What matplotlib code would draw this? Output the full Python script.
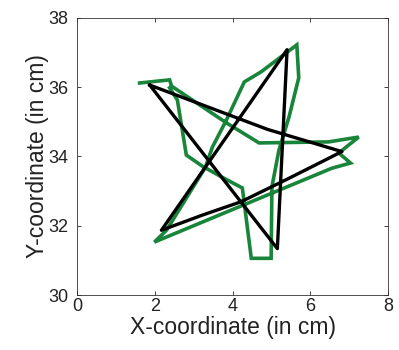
import matplotlib
matplotlib.use("Agg")
from matplotlib import pyplot as plt

# traced star (green) and reference star (black), coordinates in cm
green_x = [1.61, 2.38, 2.43, 3.84, 4.68, 6.47, 7.24, 6.73, 7.03, 6.55,
           1.99, 2.30, 3.30, 3.48, 3.84, 4.30, 4.73, 5.65, 5.70, 5.45,
           5.19, 5.01, 4.99, 4.48, 4.30, 4.25, 3.73, 3.22, 2.81, 2.58, 2.38]
green_y = [36.12, 36.21, 36.03, 34.97, 34.39, 34.42, 34.56, 34.10, 33.81, 33.66,
           31.53, 31.87, 33.69, 34.27, 35.05, 36.15, 36.44, 37.22, 36.27, 35.14,
           34.18, 33.12, 31.06, 31.06, 32.65, 33.09, 33.40, 33.72, 34.04, 35.63, 35.98]

black_x = [1.87, 4.90, 6.81, 5.36, 4.21, 3.23, 2.17, 5.40, 5.15, 1.87]
black_y = [36.06, 34.78, 34.14, 33.32, 32.69, 32.31, 31.87, 37.08, 31.34, 36.06]

x_ticks = [0, 2, 4, 6, 8]
y_ticks = [30, 32, 34, 36, 38]

plt.rcParams['font.family'] = ['Liberation Sans', 'DejaVu Sans']

fig = plt.figure(figsize=(3.99, 3.5), dpi=100)
ax = fig.add_axes([0.193, 0.157, 0.78, 0.792])

ax.plot(green_x, green_y, color='#18853a', linewidth=2.6, solid_joinstyle='miter')
ax.plot(black_x, black_y, color='black', linewidth=2.4, solid_joinstyle='round')

ax.set_xlim(0, 8)
ax.set_ylim(30, 38)
ax.set_xticks(x_ticks)
ax.set_yticks(y_ticks)
ax.tick_params(direction='in', top=True, right=True, length=3, width=0.6,
               labelsize=13, colors='#222222')
ax.tick_params(axis='x', pad=2)
ax.tick_params(axis='y', pad=6)
for spine in ax.spines.values():
    spine.set_linewidth(0.6)
    spine.set_color('#333333')

ax.set_xlabel("X-coordinate (in cm)", fontsize=16.5, labelpad=0.5, color='#222222')
ax.set_ylabel("Y-coordinate (in cm)", fontsize=16.5, labelpad=0, color='#222222')

fig.savefig("out.png", dpi=100)
